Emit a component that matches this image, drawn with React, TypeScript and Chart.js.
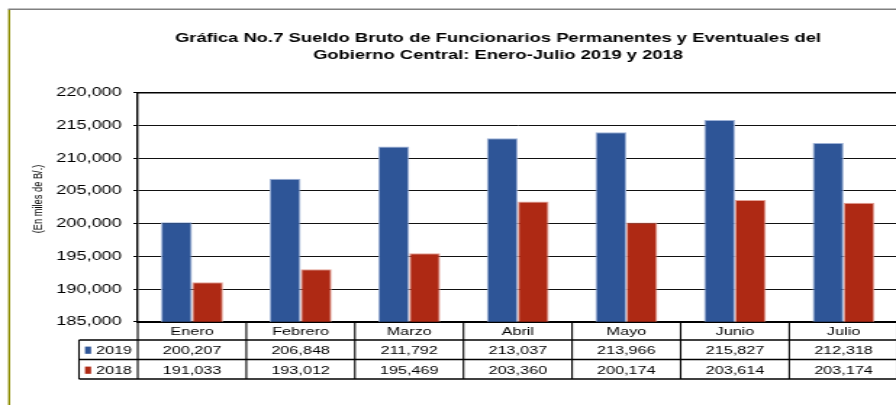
import React, { useEffect, useRef } from "react";
import { Chart, registerables } from "chart.js";

Chart.register(...registerables);

// ---------- data ----------
const categories = ["Enero", "Febrero", "Marzo", "Abril", "Mayo", "Junio", "Julio"];
const series2019 = [200207, 206848, 211792, 213037, 213966, 215827, 212318];
const series2018 = [191033, 193012, 195469, 203360, 200174, 203614, 203174];
const seriesLabels = ["2019", "2018"];
const titleLines = [
  "Gráfica No.7 Sueldo Bruto de Funcionarios Permanentes y Eventuales del",
  "Gobierno Central: Enero-Julio 2019 y 2018",
];
const yAxisTitle = "(En miles de B/.)";
const yMin = 185000;
const yMax = 220000;
const yStep = 5000;

// ---------- styling / geometry ----------
const S = 1.45; // horizontal stretch of the original picture
const CW = 687; // canvas units
const CH = 405;
const FONT = "'Liberation Sans', Arial, Helvetica, sans-serif";
const BLUE = "#2E5597";
const RED = "#AE2914";
const BLUE_EDGE = "#9DB1D6";
const RED_EDGE = "#E3A196";
const fmt = (v: number) => Number(v).toLocaleString("en-US");

const tablePlugin = {
  id: "tablePlugin",
  beforeDraw(chart: any) {
    const { ctx } = chart;
    ctx.save();
    // outer frame
    ctx.strokeStyle = "#8C8C00";
    ctx.lineWidth = 1.4;
    ctx.beginPath();
    ctx.moveTo(6.3, 9.5);
    ctx.lineTo(6.3, CH);
    ctx.stroke();
    ctx.strokeStyle = "#808080";
    ctx.lineWidth = 1.5;
    ctx.beginPath();
    ctx.moveTo(5.6, 9.3);
    ctx.lineTo(CW, 9.3);
    ctx.stroke();
    ctx.restore();
  },
  afterDraw(chart: any) {
    const { ctx, chartArea } = chart;
    const { left, right, top, bottom } = chartArea;
    const xs = chart.scales.x;
    const n = categories.length;
    const catW = (right - left) / n;
    const legendLeft = 54.5;
    const rowLines = [340, 359.5, 379];
    const baselines = [354, 374];
    ctx.save();
    // top border of plot
    ctx.strokeStyle = "#000";
    ctx.lineWidth = 1.5;
    ctx.beginPath();
    ctx.moveTo(left - 0.7, top);
    ctx.lineTo(right, top);
    ctx.stroke();

    // table grid
    ctx.lineWidth = 1.1;
    for (let i = 0; i <= n; i++) {
      const x = left + i * catW;
      ctx.beginPath();
      ctx.moveTo(x, bottom);
      ctx.lineTo(x, rowLines[2]);
      ctx.stroke();
    }
    ctx.beginPath();
    ctx.moveTo(legendLeft, rowLines[0]);
    ctx.lineTo(legendLeft, rowLines[2]);
    ctx.stroke();
    ctx.lineWidth = 1.3;
    for (const y of rowLines) {
      ctx.beginPath();
      ctx.moveTo(legendLeft, y);
      ctx.lineTo(right, y);
      ctx.stroke();
    }

    // values and legend
    const datasets = chart.data.datasets;
    ctx.font = `11.2px ${FONT}`;
    ctx.textBaseline = "alphabetic";
    datasets.forEach((ds: any, r: number) => {
      const by = baselines[r];
      ctx.fillStyle = ds.backgroundColor;
      ctx.fillRect(58.6, by - 7.4, 4.2, 7.2);
      ctx.fillStyle = "#000";
      ctx.textAlign = "left";
      ctx.fillText(ds.label, 66.2, by);
      ctx.textAlign = "center";
      ds.data.forEach((v: number, i: number) => {
        ctx.fillText(fmt(v), xs.getPixelForValue(i), by);
      });
    });

    // y axis title
    ctx.translate(26.3, 199);
    ctx.rotate(-Math.PI / 2);
    ctx.font = `9.3px ${FONT}`;
    ctx.textAlign = "center";
    ctx.textBaseline = "middle";
    ctx.fillStyle = "#000";
    ctx.fillText(yAxisTitle, 0, 0);
    ctx.restore();
  },
};

export default function App() {
  const ref = useRef<HTMLCanvasElement>(null);
  useEffect(() => {
    if (!ref.current) return;
    const chart = new Chart(ref.current, {
      type: "bar",
      data: {
        labels: categories,
        datasets: [
          {
            label: seriesLabels[0],
            data: series2019,
            backgroundColor: BLUE,
            borderColor: BLUE_EDGE,
            borderWidth: 1,
          },
          {
            label: seriesLabels[1],
            data: series2018,
            backgroundColor: RED,
            borderColor: RED_EDGE,
            borderWidth: 1,
          },
        ],
      },
      options: {
        animation: false,
        responsive: false,
        devicePixelRatio: 1,
        layout: { padding: 0 },
        datasets: { bar: { categoryPercentage: 0.571, barPercentage: 1 } },
        plugins: {
          legend: { display: false },
          tooltip: { enabled: false },
          title: {
            display: true,
            text: titleLines,
            color: "#000",
            font: { family: FONT, size: 12.7, weight: "bold", lineHeight: 1.36 },
            padding: { top: 29.95, bottom: 28.2 },
          },
        },
        scales: {
          x: {
            grid: { display: false, drawTicks: false },
            border: { display: true, color: "#000", width: 2 },
            ticks: {
              color: "#000",
              font: { family: FONT, size: 11.2 },
              padding: 3,
              maxRotation: 0,
              autoSkip: false,
            },
            afterFit: (s: any) => {
              s.height = CH - 321.8;
            },
          },
          y: {
            min: yMin,
            max: yMax,
            grid: {
              color: "#111",
              lineWidth: 1,
              borderDash: [0.8, 0.8],
              tickLength: 3,
              tickColor: "#000",
              tickBorderDash: [],
              tickWidth: 1,
            },
            border: { display: true, color: "#000", width: 1.4 },
            ticks: {
              stepSize: yStep,
              color: "#000",
              font: { family: FONT, size: 12.5 },
              padding: 8,
              callback: (v: any) => fmt(v),
            },
            afterFit: (s: any) => {
              s.width = 95;
            },
          },
          yRight: {
            position: "right",
            display: true,
            grid: { display: false, drawTicks: false },
            border: { display: false },
            ticks: { display: false },
            afterFit: (s: any) => {
              s.width = CW - 619.3;
            },
          },
        },
      } as any,
      plugins: [tablePlugin],
    });
    return () => chart.destroy();
  }, []);

  return (
    <div
      style={{
        position: "fixed",
        left: 0,
        top: 0,
        width: 896,
        height: 405,
        overflow: "hidden",
        background: "#fff",
      }}
    >
      <canvas
        ref={ref}
        width={CW}
        height={CH}
        style={{ display: "block", width: `${CW * S}px`, height: `${CH}px` }}
      />
    </div>
  );
}
